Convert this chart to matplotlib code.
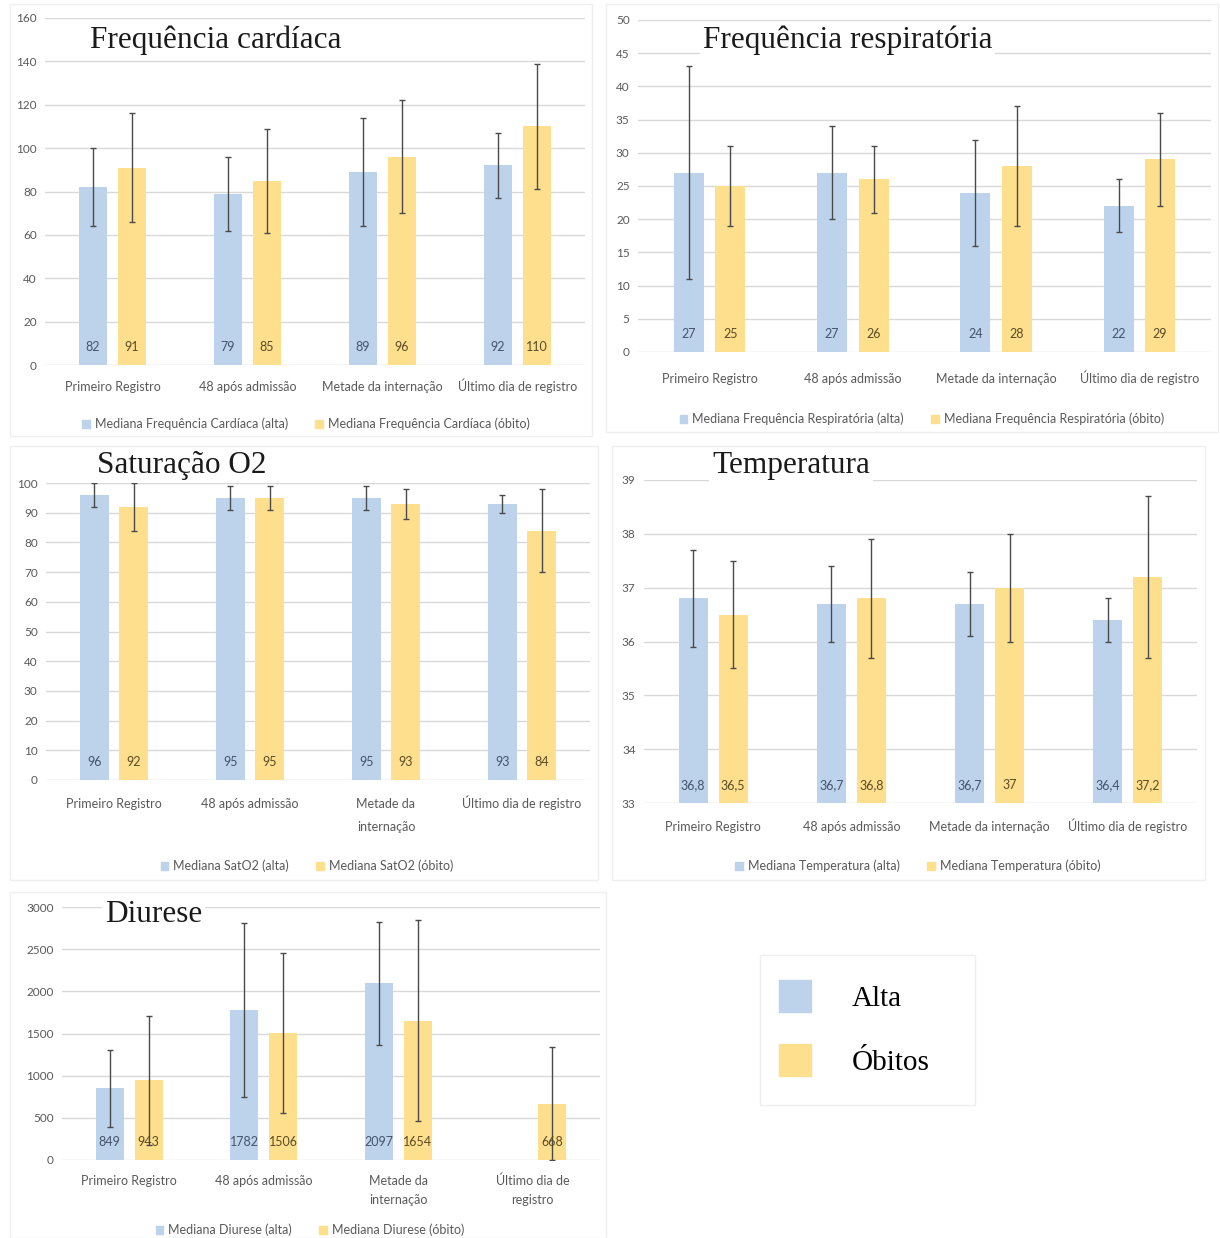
import numpy as np
import matplotlib
matplotlib.use("Agg")
import matplotlib.pyplot as plt
from matplotlib.patches import Patch, Rectangle

W, H = 1220, 1238

azul = "#BDD3EC"
amarelo = "#FEDF8E"
cinza = "#595959"
fonte = "Lato"
serif = "Liberation Serif"

momentos = ["Primeiro Registro", "48 após admissão", "Metade da internação", "Último dia de registro"]
momentos_sat = ["Primeiro Registro", "48 após admissão", "Metade da\ninternação", "Último dia de registro"]
momentos_diu = ["Primeiro Registro", "48 após admissão", "Metade da\ninternação", "Último dia de\nregistro"]

# medianas e barras de erro (simetricas)
fc_alta = [82, 79, 89, 92]
fc_obito = [91, 85, 96, 110]
fc_alta_err = [18, 17, 25, 15]
fc_obito_err = [25, 24, 26, 29]

fr_alta = [27, 27, 24, 22]
fr_obito = [25, 26, 28, 29]
fr_alta_err = [16, 7, 8, 4]
fr_obito_err = [6, 5, 9, 7]

sat_alta = [96, 95, 95, 93]
sat_obito = [92, 95, 93, 84]
sat_alta_err = [4, 4, 4, 3]
sat_obito_err = [8, 4, 5, 14]

temp_alta = [36.8, 36.7, 36.7, 36.4]
temp_obito = [36.5, 36.8, 37.0, 37.2]
temp_alta_err = [0.9, 0.7, 0.6, 0.4]
temp_obito_err = [1.0, 1.1, 1.0, 1.5]

diu_alta = [849, 1782, 2097, np.nan]
diu_obito = [943, 1506, 1654, 668]
diu_alta_err = [460, 1030, 730, np.nan]
diu_obito_err = [770, 945, 1190, 670]


def fmt(v):
    return f"{v:g}".replace(".", ",")


def painel(fig, caixa, titulo, tit_xy, cats, alta, obito, ealta, eobito,
           ylim, yticks, leg_nomes, leg_xy, pad_x, linha, borda):
    l, t, r, b = caixa
    ax = fig.add_axes([l / W, 1 - b / H, (r - l) / W, (b - t) / H])
    x = np.arange(len(cats))
    w, d = 0.21, 0.145
    ax.bar(x - d, alta, w, color=azul, zorder=2)
    ax.bar(x + d, obito, w, color=amarelo, zorder=2)
    ax.errorbar(x - d, alta, yerr=ealta, fmt="none", ecolor="#4a4a4a",
                elinewidth=1, capsize=2.5, capthick=1, zorder=3)
    ax.errorbar(x + d, obito, yerr=eobito, fmt="none", ecolor="#4a4a4a",
                elinewidth=1, capsize=2.5, capthick=1, zorder=3)
    for xi, v in zip(x - d, alta):
        if not np.isnan(v):
            ax.annotate(fmt(v), (xi, ylim[0]), xytext=(0, 13), textcoords="offset points",
                        ha="center", va="center", fontsize=9, color="#44546A",
                        family=fonte, zorder=4)
    for xi, v in zip(x + d, obito):
        if not np.isnan(v):
            ax.annotate(fmt(v), (xi, ylim[0]), xytext=(0, 13), textcoords="offset points",
                        ha="center", va="center", fontsize=9, color="#5a4b25",
                        family=fonte, zorder=4)
    ax.set_xlim(-0.5, len(cats) - 0.5)
    ax.set_ylim(*ylim)
    ax.set_yticks(yticks)
    ax.set_xticks(x)
    ax.set_xticklabels([])
    # rotulos das categorias, linha a linha, alinhados pela linha de base
    for xi, c in zip(x, cats):
        for i, parte in enumerate(c.split("\n")):
            ax.annotate(parte, (xi, 0), xycoords=("data", "axes fraction"),
                        xytext=(0, -pad_x - 6.5 - i * linha), textcoords="offset points",
                        ha="center", va="baseline", fontsize=9, color=cinza,
                        family=fonte, annotation_clip=False)
    for lab in ax.get_yticklabels():
        lab.set_fontsize(8.5)
        lab.set_color(cinza)
        lab.set_family(fonte)
    ax.tick_params(axis="x", length=0)
    ax.tick_params(axis="y", length=0, pad=6)
    ax.grid(axis="y", color="#D9D9D9", linewidth=1, zorder=0)
    ax.set_axisbelow(True)
    for s in ax.spines.values():
        s.set_visible(False)
    fig.text(tit_xy[0] / W, 1 - tit_xy[1] / H, titulo, family=serif, fontsize=22.5,
             color="#1a1a1a", ha="left", va="center",
             bbox=dict(facecolor="white", edgecolor="none", pad=2))
    handles = [Patch(color=azul), Patch(color=amarelo)]
    fig.legend(handles, leg_nomes, loc="center", ncol=2, frameon=False,
               bbox_to_anchor=(leg_xy[0] / W, 1 - leg_xy[1] / H),
               prop=dict(family=fonte, size=9), labelcolor=cinza,
               handlelength=0.6, handleheight=0.6, handletextpad=0.4, columnspacing=2.2)
    bl, bt, br, bb = borda
    fig.patches.append(Rectangle((bl / W, 1 - bb / H), (br - bl) / W, (bb - bt) / H,
                                 transform=fig.transFigure, fill=False,
                                 edgecolor="#EFEFEF", linewidth=1, zorder=0))
    return ax


fig = plt.figure(figsize=(W / 100, H / 100), dpi=100)

painel(fig, (45, 18, 585, 365), "Frequência cardíaca", (90, 40), momentos,
       fc_alta, fc_obito, fc_alta_err, fc_obito_err, (0, 160), range(0, 161, 20),
       ["Mediana Frequência Cardíaca (alta)", "Mediana Frequência Cardíaca (óbito)"],
       (306, 424), 12, 15, (10, 4, 592, 436))

painel(fig, (638, 20, 1211, 352), "Frequência respiratória", (703, 40), momentos,
       fr_alta, fr_obito, fr_alta_err, fr_obito_err, (0, 50), range(0, 51, 5),
       ["Mediana Frequência Respiratória (alta)", "Mediana Frequência Respiratória (óbito)"],
       (922, 419), 15.5, 15, (606, 4, 1218, 432))

painel(fig, (46, 483, 590, 780), "Saturação O2", (97, 465), momentos_sat,
       sat_alta, sat_obito, sat_alta_err, sat_obito_err, (0, 100), range(0, 101, 10),
       ["Mediana SatO2 (alta)", "Mediana SatO2 (óbito)"],
       (307, 866), 13.5, 16.5, (10, 446, 598, 880))

painel(fig, (644, 480, 1197, 803), "Temperatura", (712, 465), momentos,
       temp_alta, temp_obito, temp_alta_err, temp_obito_err, (33, 39), range(33, 40),
       ["Mediana Temperatura (alta)", "Mediana Temperatura (óbito)"],
       (918, 866), 14, 15, (612, 446, 1205, 880))

painel(fig, (62, 907, 600, 1160), "Diurese", (105, 915), momentos_diu,
       diu_alta, diu_obito, diu_alta_err, diu_obito_err, (0, 3000), range(0, 3001, 500),
       ["Mediana Diurese (alta)", "Mediana Diurese (óbito)"],
       (310, 1230), 11.5, 13.5, (10, 892, 606, 1238))

# legenda geral
fig.patches.append(Rectangle((760 / W, 1 - 1105 / H), 215 / W, 150 / H,
                             transform=fig.transFigure, fill=False,
                             edgecolor="#EFEFEF", linewidth=1, zorder=0))
fig.legend([Patch(color=azul), Patch(color=amarelo)], ["Alta", "Óbitos"],
           loc="center", bbox_to_anchor=(854 / W, 1 - 1028 / H), frameon=False,
           prop=dict(family=serif, size=21), handlelength=1.1, handleheight=1.3,
           handletextpad=1.4, labelspacing=1.1, borderpad=0)

fig.savefig("out.png", dpi=100)
